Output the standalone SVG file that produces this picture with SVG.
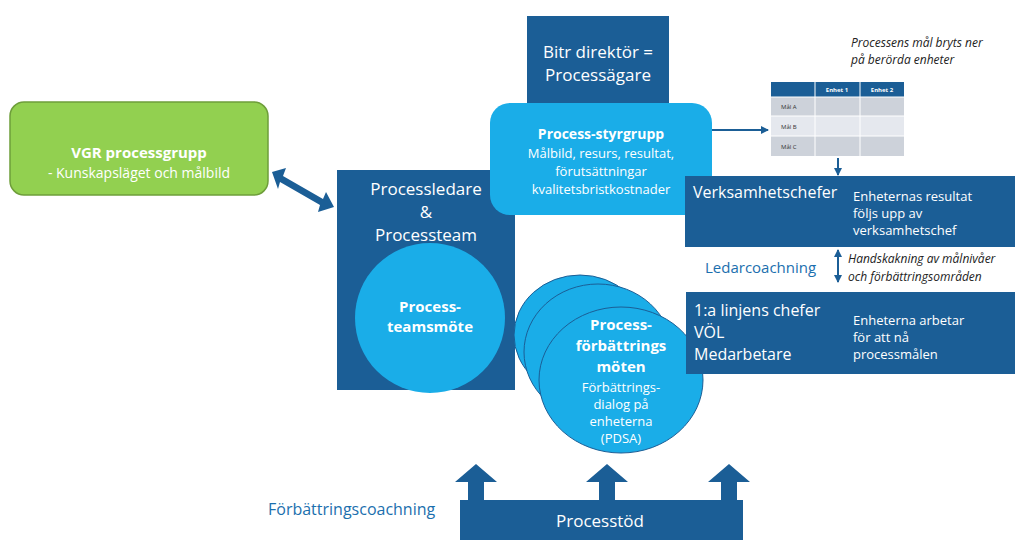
<svg xmlns="http://www.w3.org/2000/svg" width="1024" height="547" viewBox="0 0 1024 547">
<style>
text{font-family:"Open Sans","Liberation Sans",sans-serif}
.dk{fill:#1B5E96}
.lt{fill:#1AADE8;stroke:#1B5E96;stroke-width:1}
.w{fill:#fff}
.ln{stroke:#1B5E96;stroke-width:2;fill:none}
</style>
<defs>
<marker id="ah" markerWidth="8" markerHeight="8" refX="7" refY="4" orient="auto" markerUnits="userSpaceOnUse"><path d="M0,0 L8,4 L0,8z" fill="#1B5E96"/></marker>
</defs>
<rect width="1024" height="547" fill="#fff"/>
<g id="vgr">
<rect x="10" y="102" width="258" height="93" rx="14" fill="#92D050" stroke="#6E9E3A" stroke-width="1.5"/>
<text x="139" y="158" text-anchor="middle" class="w" font-size="15" font-weight="bold">VGR processgrupp</text>
<text x="139" y="178" text-anchor="middle" class="w" font-size="14">- Kunskapsläget och målbild</text>
</g>
<g id="processledare">
<rect x="337" y="170" width="178" height="220" class="dk"/>
<text x="426" y="195" text-anchor="middle" class="w" font-size="17">Processledare</text>
<text x="426" y="218" text-anchor="middle" class="w" font-size="17">&amp;</text>
<text x="426" y="241" text-anchor="middle" class="w" font-size="17">Processteam</text>
<circle cx="430" cy="318" r="75" fill="#1AADE8"/>
<text x="430" y="312" text-anchor="middle" class="w" font-size="15" font-weight="bold">Process-</text>
<text x="430" y="332" text-anchor="middle" class="w" font-size="15" font-weight="bold">teamsmöte</text>
</g>
<g id="bitr">
<rect x="527" y="16" width="142" height="95" class="dk"/>
<text x="598" y="58" text-anchor="middle" class="w" font-size="17">Bitr direktör =</text>
<text x="598" y="81" text-anchor="middle" class="w" font-size="17">Processägare</text>
</g>
<g id="styrgrupp">
<rect x="490" y="103" width="222" height="112" rx="20" fill="#1AADE8"/>
<text x="601" y="139" text-anchor="middle" class="w" font-size="14" font-weight="bold">Process-styrgrupp</text>
<text x="601" y="158" text-anchor="middle" class="w" font-size="13">Målbild, resurs, resultat,</text>
<text x="601" y="176" text-anchor="middle" class="w" font-size="13">förutsättningar</text>
<text x="601" y="194" text-anchor="middle" class="w" font-size="13">kvalitetsbristkostnader</text>
</g>
<g id="note">
<text x="851" y="47" font-size="12" font-style="italic" fill="#222">Processens mål bryts ner</text>
<text x="851" y="64" font-size="12" font-style="italic" fill="#222">på berörda enheter</text>
</g>
<g id="table" font-size="6">
<rect x="771" y="82" width="133" height="15" fill="#1B5E96"/>
<rect x="771" y="97" width="133" height="19" fill="#CDD2DA"/>
<rect x="771" y="116" width="133" height="20" fill="#E5E8EE"/>
<rect x="771" y="136" width="133" height="20" fill="#CDD2DA"/>
<path d="M815,82V156M860,82V156M771,97H904M771,116H904M771,136H904" stroke="#fff" stroke-width="1"/>
<text x="837" y="92" text-anchor="middle" class="w" font-weight="bold">Enhet 1</text>
<text x="882" y="92" text-anchor="middle" class="w" font-weight="bold">Enhet 2</text>
<text x="781" y="109" fill="#333">Mål A</text>
<text x="781" y="129" fill="#333">Mål B</text>
<text x="781" y="149" fill="#333">Mål C</text>
</g>
<g id="verksamhet">
<rect x="685" y="176" width="330" height="71" class="dk"/>
<text x="693" y="198" class="w" font-size="16">Verksamhetschefer</text>
<text x="853" y="201" class="w" font-size="13">Enheternas resultat</text>
<text x="853" y="218" class="w" font-size="13">följs upp av</text>
<text x="853" y="235" class="w" font-size="13">verksamhetschef</text>
</g>
<g id="forbattring">
<ellipse cx="580" cy="335" rx="66" ry="60" class="lt"/>
<ellipse cx="598" cy="352" rx="74" ry="68" class="lt"/>
<ellipse cx="621" cy="380" rx="82" ry="73" class="lt"/>
<text x="621" y="330" text-anchor="middle" class="w" font-size="15" font-weight="bold">Process-</text>
<text x="621" y="351" text-anchor="middle" class="w" font-size="15" font-weight="bold">förbättrings</text>
<text x="621" y="372" text-anchor="middle" class="w" font-size="15" font-weight="bold">möten</text>
<text x="621" y="392" text-anchor="middle" class="w" font-size="13">Förbättrings-</text>
<text x="621" y="409" text-anchor="middle" class="w" font-size="13">dialog på</text>
<text x="621" y="426" text-anchor="middle" class="w" font-size="13">enheterna</text>
<text x="621" y="443" text-anchor="middle" class="w" font-size="13">(PDSA)</text>
</g>
<g id="linjen">
<rect x="686" y="292" width="329" height="82" class="dk"/>
<text x="694" y="316" class="w" font-size="16">1:a linjens chefer</text>
<text x="694" y="338" class="w" font-size="16">VÖL</text>
<text x="694" y="360" class="w" font-size="16">Medarbetare</text>
<text x="853" y="325" class="w" font-size="13">Enheterna arbetar</text>
<text x="853" y="342" class="w" font-size="13">för att nå</text>
<text x="853" y="359" class="w" font-size="13">processmålen</text>
</g>
<g id="labels">
<text x="705" y="273" font-size="15" fill="#1B6FAE">Ledarcoachning</text>
<text x="848" y="263" font-size="12" font-style="italic" fill="#222">Handskakning av målnivåer</text>
<text x="848" y="281" font-size="12" font-style="italic" fill="#222">och förbättringsområden</text>
<text x="268" y="515" font-size="16" fill="#1B6FAE">Förbättringscoachning</text>
</g>
<g id="processtod">
<rect x="460" y="500" width="283" height="40" class="dk"/>
<path class="dk" d="M468,500V482H455L476,464L497,482H484V500z"/>
<path class="dk" d="M599,500V482H586L607,464L628,482H615V500z"/>
<path class="dk" d="M721,500V482H708L729,464L750,482H737V500z"/>
<text x="600" y="527" text-anchor="middle" class="w" font-size="17">Processtöd</text>
</g>
<g id="connectors">
<path class="dk" d="M272,172L286,168L283,176L323,199L326,192L334,207L318,212L320,205L280,182L278,189z"/>
<path class="ln" d="M712,130H768" marker-end="url(#ah)"/>
<path class="ln" d="M838,158V175" marker-end="url(#ah)"/>
<path class="ln" d="M838,258V282" marker-end="url(#ah)"/>
<path class="ln" d="M838,270V250" marker-end="url(#ah)"/>
</g>
</svg>
